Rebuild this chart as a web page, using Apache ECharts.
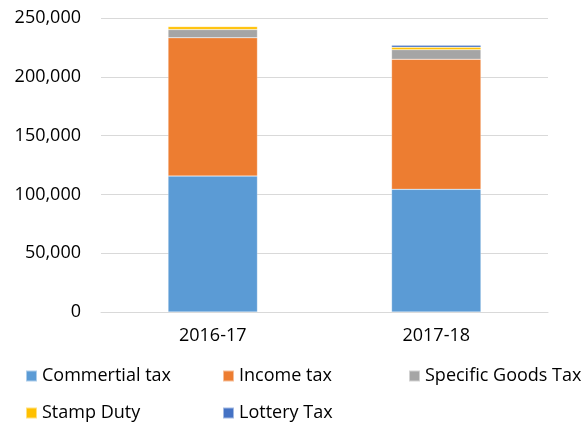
<!DOCTYPE html>
<html><head><meta charset="utf-8">
<script src="https://cdn.jsdelivr.net/npm/echarts@6/dist/echarts.min.js"></script>
<style>html,body{margin:0;padding:0;background:#fff}#c{width:584px;height:426px}</style>
</head><body><div id="c"></div>
<script>
const categories = ['2016-17', '2017-18'];
const commertialTax = [115600, 104300];
const incomeTax = [117600, 110600];
const specificGoodsTax = [7000, 8200];
const stampDuty = [2500, 2000];
const lotteryTax = [500, 1700];
const yTicks = [0, 50000, 100000, 150000, 200000, 250000];

const names = ['Commertial tax', 'Income tax', 'Specific Goods Tax', 'Stamp Duty', 'Lottery Tax'];
const values = [commertialTax, incomeTax, specificGoodsTax, stampDuty, lotteryTax];
const colors = ['#5B9BD5', '#ED7D31', '#A5A5A5', '#FFC000', '#4472C4'];
const font = '"Open Sans", "Noto Sans", sans-serif';

const legendPos = [[25, 367], [222, 367], [408, 367], [25, 404], [222, 404]];

const chart = echarts.init(document.getElementById('c'));
chart.setOption({
  animation: false,
  color: colors,
  grid: { left: 101, right: 36, top: 18, bottom: 114, containLabel: false },
  legend: names.map((n, i) => ({
    data: [n], left: legendPos[i][0], top: legendPos[i][1],
    icon: 'rect', itemWidth: 11, itemHeight: 11, itemGap: 0, padding: 0,
    textStyle: { fontFamily: font, fontSize: 18, color: '#000' }
  })),
  xAxis: {
    type: 'category', data: categories,
    axisLine: { lineStyle: { color: '#d9d9d9', width: 1 } },
    axisTick: { show: false },
    axisLabel: { fontFamily: font, fontSize: 18, color: '#000', margin: 15 }
  },
  yAxis: {
    type: 'value', min: 0, max: 250000, interval: 50000,
    axisLine: { show: false }, axisTick: { show: false },
    splitLine: { lineStyle: { color: '#d9d9d9', width: 1 } },
    axisLabel: {
      fontFamily: font, fontSize: 18, color: '#000', margin: 20,
      formatter: v => yTicks.includes(v) ? v.toLocaleString('en-US') : ''
    }
  },
  series: names.map((n, i) => ({
    name: n, type: 'bar', stack: 'total', data: values[i],
    barWidth: '40%',
    itemStyle: { color: colors[i], borderColor: 'rgba(255,255,255,0.5)', borderWidth: 0.5 }
  }))
});
</script></body></html>
